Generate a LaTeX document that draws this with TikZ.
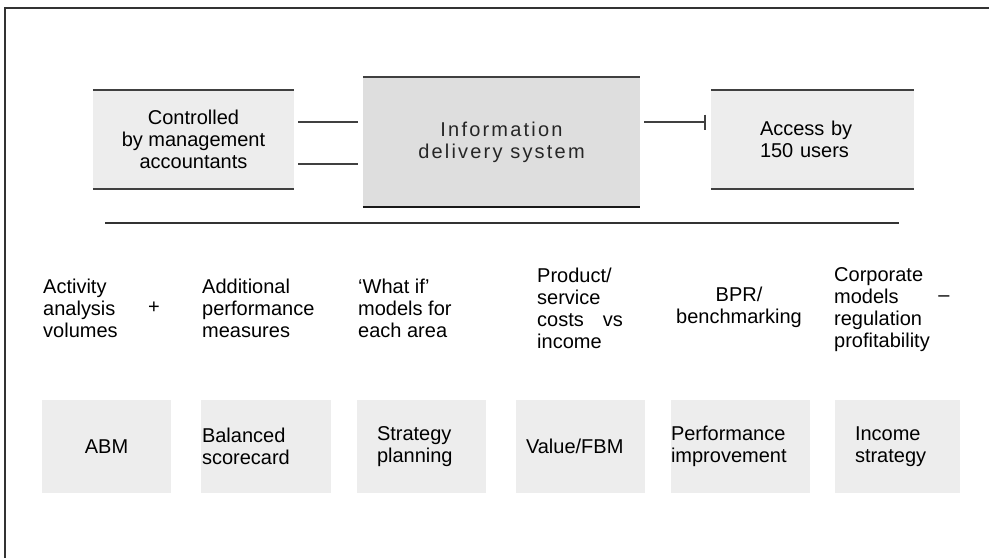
\documentclass[tikz,border=0pt]{standalone}
\usepackage{fontspec}
\setmainfont{Liberation Sans}
\newfontfamily\spacedfont[LetterSpace=11]{Liberation Sans}
\usetikzlibrary{arrows.meta, positioning}

\begin{document}
\begin{tikzpicture}[
    x=1pt, y=-1pt,
    every node/.style={font=\fontsize{20}{22}\selectfont, inner sep=0pt},
    topbox/.style={rectangle, fill=gray!14, minimum width=201pt, minimum height=99pt},
    midbox/.style={rectangle, fill=gray!26, minimum width=277pt, minimum height=130pt},
    cell/.style 2 args={rectangle, fill=gray!14, minimum height=93pt, text width=#1, inner xsep=#2, align=left},
    note/.style={anchor=west, align=left},
    rule/.style={draw=black!75, line width=1.5pt},
    link/.style={draw=black!75, line width=1.5pt, shorten <=4pt, shorten >=5pt}
]
    \useasboundingbox (0,0) rectangle (989,558);
    % frame
    \draw [line width=2pt, black!80] (5,558) -- (5,8) -- (989,8);

    % top row
    \node [topbox, align=center] (ctrl) at (193.5,139.5) {Controlled\\by management\\accountants};
    \node [midbox, align=center, font=\spacedfont\fontsize{20}{22}\selectfont, text=black!85] (info) at (501.5,142) {Information\\delivery system};
    \node [topbox, minimum width=0pt, text width=105pt, inner xsep=49pt, align=left] (users) at (812.5,139.5) {Access by\\150 users};

    \draw [rule] (ctrl.north west) -- (ctrl.north east);
    \draw [rule] (ctrl.south west) -- (ctrl.south east);
    \draw [rule] (info.north west) -- (info.north east);
    \draw [rule, black!90] (info.south west) -- (info.south east);
    \draw [rule] (users.north west) -- (users.north east);
    \draw [rule] (users.south west) -- (users.south east);

    \path [link] ([yshift=17.5pt]ctrl.east) -- ([yshift=17.5pt]ctrl.east -| info.west);
    \path [link] ([yshift=-24.5pt]ctrl.east) -- ([yshift=-24.5pt]ctrl.east -| info.west);
    \path [link, -{Bar[width=15pt]}] ([yshift=20pt]info.east) -- ([yshift=20pt]info.east -| users.west);

    % divider
    \draw [line width=2pt, black!80] (105,223) -- (899,223);

    % middle row
    \node [note] (activity) at (43,308.5) {Activity\\analysis\\volumes};
    \node (plus) at (154,308) {+};
    \node [note] (measures) at (202,308.5) {Additional\\performance\\measures};
    \node [note] (whatif) at (358,308.5) {‘What if’\\models for\\each area};
    \node [note] (costs) at (537,308) {Product/\\service\\costs\hspace{19pt}vs\\income};
    \node [align=center] (bpr) at (739,307) {BPR/\\benchmarking};
    \node [note] (corporate) at (834,310) {Corporate\\models\\regulation\\profitability};
    \node (minus) at (944,299) {–};

    % bottom row
    \node [cell={129pt}{0pt}, align=center] (abm) at (106.5,446.5) {ABM};
    \node [cell={128pt}{1pt}] (bsc) at (266,446.5) {Balanced\\scorecard};
    \node [cell={89pt}{20pt}] (strategy) at (421.5,446.5) {Strategy\\planning};
    \node [cell={109pt}{10pt}] (value) at (580.5,446.5) {Value/FBM};
    \node [cell={139pt}{0pt}] (improve) at (740.5,446.5) {Performance\\improvement};
    \node [cell={85pt}{20pt}] (income) at (897.5,446.5) {Income\\strategy};
\end{tikzpicture}
\end{document}
